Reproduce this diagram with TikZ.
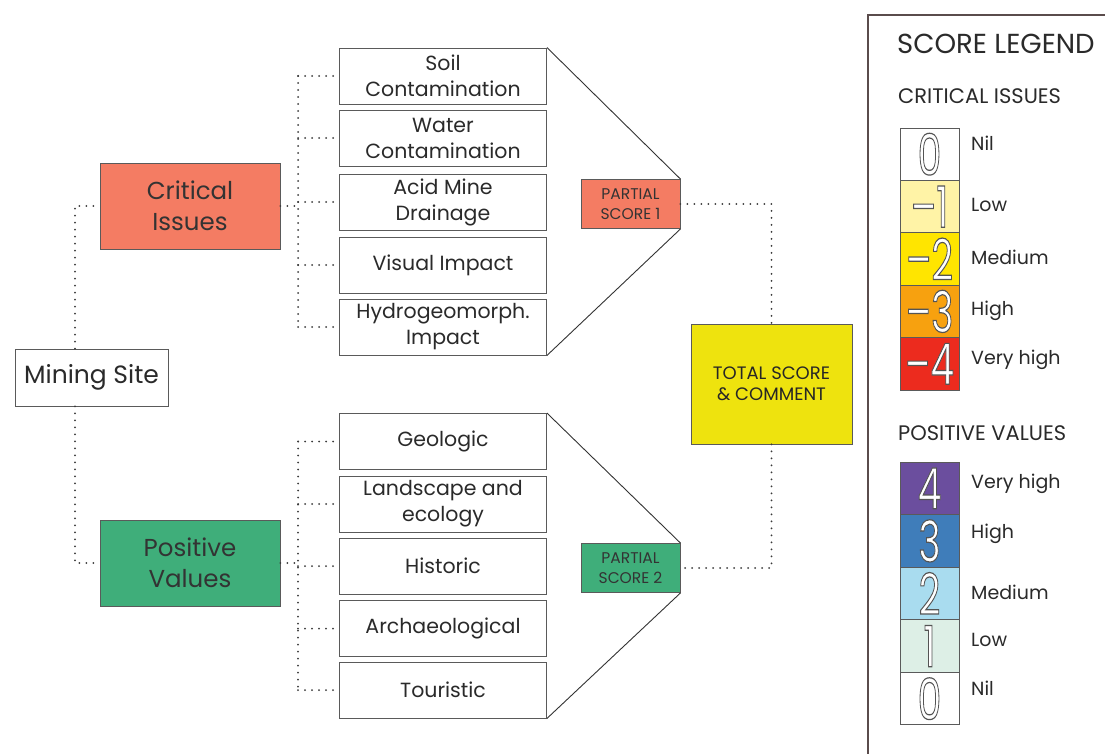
\documentclass[tikz,border=0pt]{standalone}
\usepackage{fontspec}
\setmainfont{Poppins}
\usepackage{graphicx}
\definecolor{boxgray}{HTML}{5A5A5A}
\definecolor{txt}{HTML}{2A2A2A}
\definecolor{dotc}{HTML}{3A3A3A}
\definecolor{crit}{HTML}{F47C63}
\definecolor{posv}{HTML}{3FAE7A}
\definecolor{totc}{HTML}{EEE30E}
\definecolor{frame}{HTML}{5A4C4C}
\definecolor{cm1}{HTML}{FFF3A6}
\definecolor{cm2}{HTML}{FFE500}
\definecolor{cm3}{HTML}{F7A10F}
\definecolor{cm4}{HTML}{EC2B1E}
\definecolor{cp4}{HTML}{6B4E9E}
\definecolor{cp3}{HTML}{3F7DBA}
\definecolor{cp2}{HTML}{A9DCEF}
\definecolor{cp1}{HTML}{DDEFE6}
\newcommand{\dig}[1]{\scalebox{0.66}[1]{\color{white}\special{pdf:literal direct 0.33 0.33 0.33 RG 1.2 w 2 Tr}#1\special{pdf:literal direct 0 Tr}}}
\tikzset{
  box/.style={draw=boxgray, line width=0.9pt, fill=white, align=center, inner sep=0pt, text=txt},
  item/.style={box, minimum width=207, minimum height=56, font=\fontsize{20.5}{26}\selectfont},
  cat/.style={box, minimum width=180, minimum height=86, font=\fontsize{24.5}{31}\selectfont, text=black!80},
  part/.style={box, minimum width=99, minimum height=49, font=\fontsize{15.5}{19.5}\selectfont, text=black!80},
  dots/.style={draw=dotc, line width=2pt, line cap=round, dash pattern=on 0pt off 7pt},
  funnel/.style={draw=black!80, line width=0.9pt},
  cell/.style={draw=boxgray, line width=0.9pt, minimum width=59, minimum height=52.4, inner sep=0pt, font=\fontsize{57}{57}\selectfont},
  lab/.style={anchor=west, inner sep=0pt, text=txt, font=\fontsize{19}{22}\selectfont},
  head/.style={anchor=west, inner sep=0pt, text=txt}
}
\begin{document}
\begin{tikzpicture}[x=1pt,y=-1pt]
\useasboundingbox (0,0) rectangle (1105,754);
\fill[white] (0,0) rectangle (1105,754);

% main nodes
\node[box, minimum width=153, minimum height=57, font=\fontsize{25}{29}\selectfont] (MS) at (91.5,377.5) {Mining Site};
\node[cat, fill=crit] (CI) at (190,206) {Critical\\Issues};
\node[cat, fill=posv] (PV) at (190,563) {Positive\\Values};

% top items
\node[item] (Soil) at (443,76) {Soil\\Contamination};
\node[item] (Water) at (443,138) {Water\\Contamination};
\node[item] (Acid) at (443,202) {Acid Mine\\Drainage};
\node[item] (Visual) at (443,265) {Visual Impact};
\node[item] (Hydro) at (443,327) {Hydrogeomorph.\\Impact};

% bottom items
\node[item] (Geo) at (443,441.5) {Geologic};
\node[item] (Land) at (443,504) {Landscape and\\ecology};
\node[item] (Hist) at (443,566) {Historic};
\node[item] (Arch) at (443,628.5) {Archaeological};
\node[item] (Tour) at (443,690) {Touristic};

% partial scores and total
\node[part, fill=crit] (P1) at (630.5,204) {PARTIAL\\SCORE 1};
\node[part, fill=posv] (P2) at (630.5,568) {PARTIAL\\SCORE 2};
\node[box, fill=totc, minimum width=161, minimum height=120, font=\fontsize{18}{21}\selectfont, text=black!85] (T) at (771.5,384) {TOTAL SCORE\\\& COMMENT};

% bus coordinates
\coordinate (busx) at (298,0);
\coordinate (msx) at (75,0);

% dotted connectors
\draw[dots] (MS.north -| msx) |- (CI.west);
\draw[dots] (MS.south -| msx) |- (PV.west);
\draw[dots] (CI.east) -- (CI.east -| busx);
\draw[dots] (PV.east) -- (PV.east -| busx);
\draw[dots] (Soil.west -| busx) -- (Hydro.west -| busx);
\draw[dots] (Geo.west -| busx) -- (Tour.west -| busx);
\foreach \n in {Soil,Water,Acid,Visual,Hydro,Geo,Land,Hist,Arch,Tour}{
  \draw[dots] (\n.west -| busx) -- (\n.west);
}
\draw[dots] (P1.east) -| (T.north);
\draw[dots] (T.south) |- (P2.east);

% funnels
\draw[funnel] (Soil.north east) -- (P1.north east);
\draw[funnel] (Hydro.south east) -- (P1.south east);
\draw[funnel] (Geo.north east) -- (P2.north east);
\draw[funnel] (Tour.south east) -- (P2.south east);

% legend frame
\draw[frame, line width=1.3pt] (1106,15) -- (868,15) -- (868,755);
\node[head, font=\fontsize{27.5}{32}\selectfont] (LT) at (897,44) {SCORE LEGEND};
\node[head, font=\fontsize{21}{25}\selectfont] (LC) at (898,96) {CRITICAL ISSUES};
\node[head, font=\fontsize{21}{25}\selectfont] (LP) at (898,433) {POSITIVE VALUES};

% critical cells
\node[cell, fill=white] (c0) at (929.5,154.2) {\dig{0}};
\node[cell, fill=cm1] (c1) at (929.5,206.6) {\dig{--1}};
\node[cell, fill=cm2] (c2) at (929.5,259.0) {\dig{--2}};
\node[cell, fill=cm3] (c3) at (929.5,311.4) {\dig{--3}};
\node[cell, fill=cm4] (c4) at (929.5,363.8) {\dig{--4}};
\node[lab] (lc0) at (971,143) {Nil};
\node[lab] (lc1) at (971,205) {Low};
\node[lab] (lc2) at (971,257) {Medium};
\node[lab] (lc3) at (971,311) {High};
\node[lab] (lc4) at (971,360) {Very high};

% positive cells
\node[cell, fill=cp4] (p4) at (929.5,488.3) {\dig{4}};
\node[cell, fill=cp3] (p3) at (929.5,540.9) {\dig{3}};
\node[cell, fill=cp2] (p2) at (929.5,593.5) {\dig{2}};
\node[cell, fill=cp1] (p1) at (929.5,646.1) {\dig{1}};
\node[cell, fill=white] (p0) at (929.5,698.7) {\dig{0}};
\node[lab] (lp4) at (971,484) {Very high};
\node[lab] (lp3) at (971,534) {High};
\node[lab] (lp2) at (971,592) {Medium};
\node[lab] (lp1) at (971,640) {Low};
\node[lab] (lp0) at (971,688) {Nil};
\end{tikzpicture}
\end{document}
